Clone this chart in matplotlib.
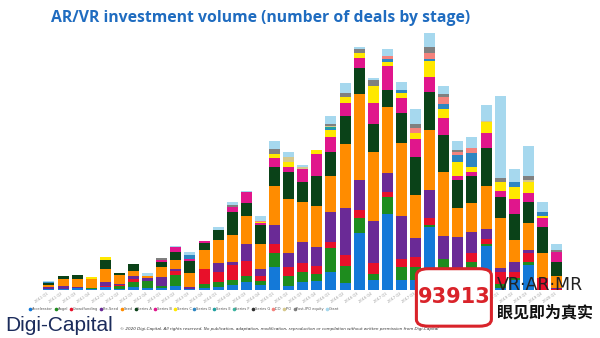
"""AR/VR investment volume - stacked deals by stage"""
import matplotlib
matplotlib.use("Agg")
import matplotlib.pyplot as plt
from matplotlib.patches import FancyBboxPatch
from matplotlib.lines import Line2D
import numpy as np

quarters = [f"{y} Q{q}" for y in range(2011, 2020) for q in range(1, 5)] + ["2020 Q1"]

stages = [
    "Accelerator", "Angel", "Crowdfunding", "Pre-Seed", "Seed", "Series A",
    "Series B", "Series C", "Series D", "Series E", "Series F", "Series G",
    "ICO", "IPO", "Post-IPO equity", "Grant",
]
colors = [
    "#1479d8", "#1e8c1e", "#e8102a", "#6a2a96", "#ff8c00", "#0a4218",
    "#e0168c", "#ffe800", "#2e86c1", "#20a0a0", "#3cb4a0", "#303030",
    "#f4837d", "#d6c88c", "#808080", "#a6d8ee",
]

# deals per quarter, one list per stage
accelerator = [1.3, 1, 2, 1, 3.3, 1.5, 3.5, 2, 2.5, 4, 1.5, 2, 3.3, 5, 7.7, 5, 22.7, 4, 8.3,
               9.3, 18.3, 7.3, 56.7, 10, 76, 10, 10, 63.3, 16, 3.3, 16, 44.3, 1.7, 10, 25, 0, 0]
angel = [0, 0, 0, 1.5, 0, 3, 5, 7, 2, 11, 0, 4, 4.3, 5, 6.3, 4.3, 14.7, 10, 10,
         6.7, 23.3, 16.7, 15, 6, 17.3, 12.7, 12.7, 1.3, 14.7, 10.7, 12.3, 1.7, 4.3, 1.7, 3.3, 0, 0]
crowdfunding = [0, 0, 0, 0, 1, 0.5, 2.5, 0, 0, 4, 0, 15, 10.7, 15, 15.3, 4.7, 8.7, 8.7, 8.3,
                8.3, 6, 11, 8.3, 10.7, 4.3, 8, 10, 7.7, 0, 6.7, 9, 4.7, 12.3, 6.7, 9, 11.7, 0.8]
pre_seed = [1.7, 3, 1, 0, 4, 1.5, 3, 3.5, 8.5, 2, 1.5, 0, 8.3, 3.3, 16.7, 6.7, 19, 14.7, 21,
            19, 30, 46.7, 30, 42.7, 19, 43.3, 19.7, 27.7, 23.7, 32, 21, 10, 4, 10, 2.7, 0, 0.9]
seed = [1.7, 7, 8, 9, 12.7, 9, 5.5, 1.5, 10.5, 9.3, 14, 19.5, 23.3, 26.7, 28, 25.3, 39, 53.3, 40.7,
        41, 36.7, 64.3, 86, 68.3, 66, 72.7, 42.7, 60, 64, 29.7, 28.3, 43.3, 49.3, 21.7, 27.3, 25.7, 12.3]
series_a = [2, 3.5, 4, 0, 9, 2, 6.5, 0, 4.5, 8, 12.5, 6.5, 10, 23.3, 12.7, 19, 18.7, 27.7, 19.3,
            30, 23.3, 28, 25.7, 28, 17.3, 30, 38.3, 38, 36.7, 27.7, 27.3, 38.3, 21, 25.7, 21, 25.3, 14.3]
series_b = [0, 0, 0, 0, 0, 0, 0, 0, 2.5, 4.3, 2, 2, 0, 5, 11, 2.5, 9, 5, 13,
            21.7, 15, 13.3, 10.7, 21.7, 24, 15, 17.3, 15.3, 17.3, 4.3, 4.3, 15, 6.7, 15.3, 9, 9, 10]
series_c = [0, 0, 0, 2, 2.7, 0, 0, 0, 0, 0, 0, 0, 0, 0, 0, 1, 4.3, 4.3, 0,
            4, 7.3, 6, 4.3, 16.7, 4.3, 5, 6.7, 15.7, 8.7, 13.3, 5, 11, 8.3, 11.7, 11, 2.3, 0]
series_d = [1.3, 0, 0, 0, 0, 0, 0, 0, 0, 0, 3.5, 0, 0, 0, 0, 0, 0, 0, 0,
            0, 1.5, 0, 0, 0, 3.3, 3.3, 0, 2.3, 5, 7.3, 14, 0, 0, 5.7, 0, 4.3, 0]
series_e = [0] * 20 + [1.5] + [0] * 16
series_f = [0] * 37
series_g = [0] * 37
ico = [0] * 15 + [0.8] + [0] * 8 + [2.7, 0, 4.3, 6, 7.3, 2.7, 5.3, 0, 0, 0, 0, 0, 0]
ipo = [0] * 17 + [5, 2, 0, 1.3] + [0] * 10 + [1, 0, 0, 1.7, 0, 0]
post_ipo = [0, 0, 0, 0, 0, 0, 0, 0, 1.5, 0, 0, 0, 0, 1.5, 0, 0, 4.7, 0, 0,
            0, 1.7, 3.3, 4, 6, 0, 0, 4, 6, 2.3, 2.3, 0, 0, 4.7, 0, 4.3, 0, 1.7]
grant = [1.5, 0, 0, 0, 0, 0, 0, 3, 0, 1.7, 3, 0, 2.7, 3.3, 1.7, 4.7, 8.3, 5.7, 2.3,
         0, 8, 10, 2, 2.3, 6.7, 8.3, 15, 13.3, 8.3, 9, 10.7, 15.7, 81.7, 12.3, 29.7, 10, 5.7]

series = [accelerator, angel, crowdfunding, pre_seed, seed, series_a, series_b,
          series_c, series_d, series_e, series_f, series_g, ico, ipo, post_ipo, grant]

fig = plt.figure(figsize=(6, 3.38), dpi=100)
ax = fig.add_axes([0.0699, 0.142, 0.8695, 0.769])

x = np.arange(len(quarters))
bottom = np.zeros(len(quarters))
for name, vals, col in zip(stages, series, colors):
    vals = np.array(vals, dtype=float)
    ax.bar(x, vals, bottom=bottom, width=0.78, color=col, label=name, linewidth=0)
    bottom += vals

ax.set_xlim(-0.5, len(quarters) - 0.5)
ax.set_ylim(0, 260)
for s in ax.spines.values():
    s.set_visible(False)
ax.set_yticks([])
ax.set_xticks(x)
ax.set_xticklabels(quarters, rotation=35, ha="right", fontsize=2.6, color="#999999")
ax.tick_params(axis="x", length=0, pad=1)

fig.text(0.435, 0.947, "AR/VR investment volume (number of deals by stage)",
         ha="center", va="center", fontsize=11.3, fontweight="bold",
         color="#1f6cc0", family="Open Sans")

handles = [Line2D([], [], marker="o", ls="", color=c, markersize=1.6) for c in colors]
fig.legend(handles, stages, loc="center", bbox_to_anchor=(0.307, 0.086), ncol=16,
           fontsize=2.6, frameon=False, handlelength=0.6, handletextpad=0.2,
           columnspacing=0.5, labelcolor="#555555")

fig.text(0.008, 0.038, "Digi-Capital", fontsize=15, color="#1b2b5b",
         family="Liberation Sans", va="center", ha="left")
fig.text(0.2, 0.028,
         "\u00a9 2020 Digi-Capital. All rights reserved. No publication, adaptation, modification, "
         "reproduction or compilation without written permission from Digi-Capital",
         fontsize=3.0, style="italic", color="#333333", va="center", ha="left")

# watermark
box = FancyBboxPatch((0.694, 0.035), 0.125, 0.17, boxstyle="round,pad=0,rounding_size=0.02",
                     transform=fig.transFigure, facecolor="white", edgecolor="#d9232a",
                     linewidth=2.2)
fig.patches.append(box)
fig.text(0.7565, 0.12, "93913", fontsize=15, fontweight="bold", color="#d9232a",
         ha="center", va="center", family="DejaVu Sans")
fig.text(0.828, 0.158, "VR\u00b7AR\u00b7MR", fontsize=12.5, color="#222222",
         ha="left", va="center", family="DejaVu Sans")
fig.text(0.828, 0.075, "眼见即为真实", fontsize=11.5, fontweight="bold", color="#111111",
         ha="left", va="center", family=["Noto Sans CJK SC", "DejaVu Sans"])

fig.savefig("out.png", dpi=100)
